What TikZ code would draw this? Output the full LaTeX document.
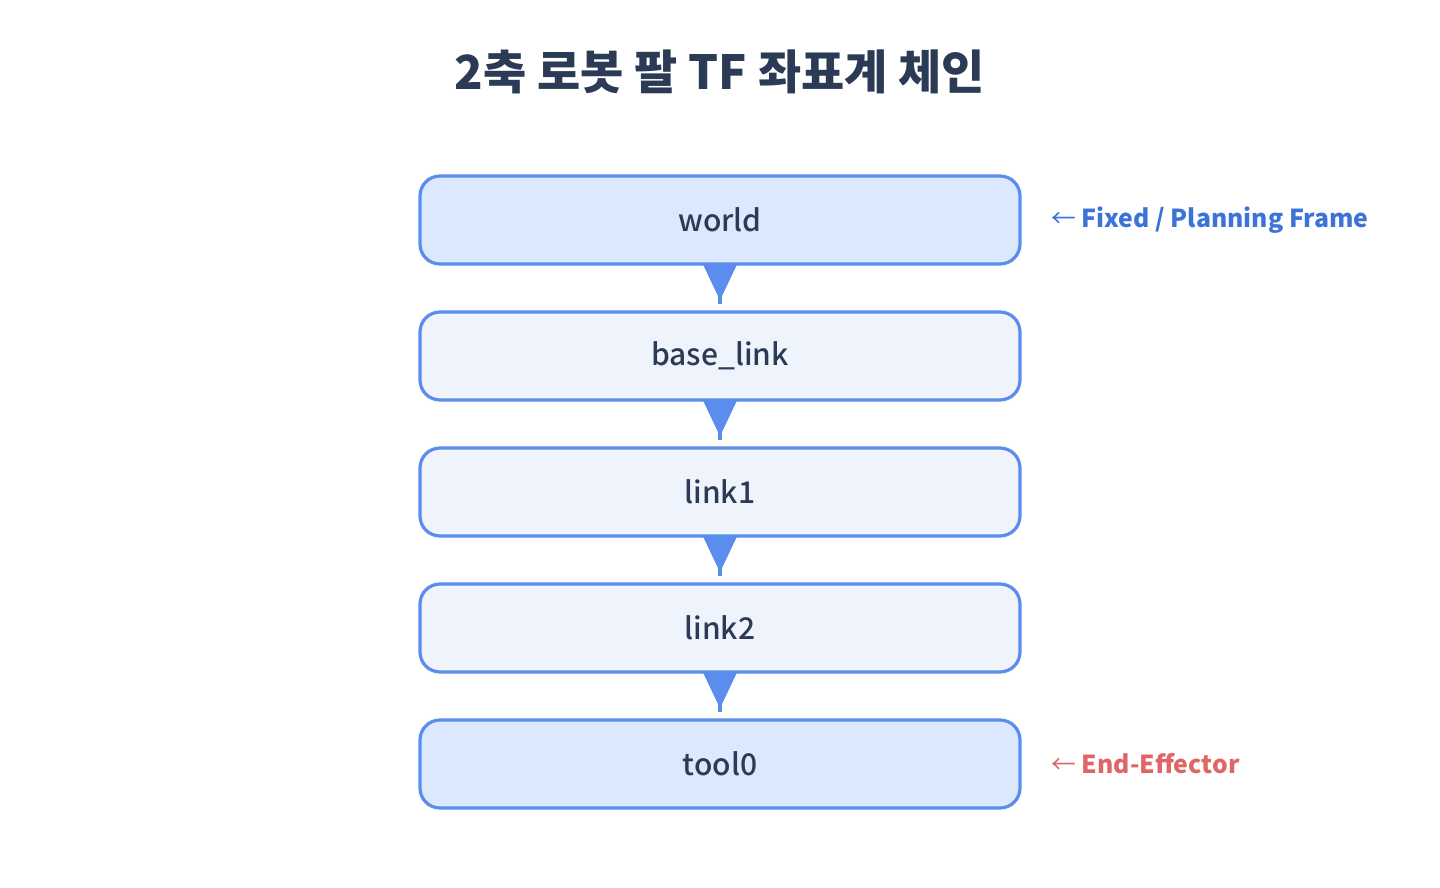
\documentclass[tikz,border=0pt]{standalone}
\usepackage{fontspec}
\setmainfont{Noto Sans CJK KR}
\newfontfamily\kr{Noto Sans CJK KR}
\newfontfamily\krm{Noto Sans CJK KR Medium}
\usetikzlibrary{arrows.meta,calc}
\definecolor{edge}{HTML}{5B8DEF}
\definecolor{fillA}{HTML}{DCE8FD}
\definecolor{fillB}{HTML}{EEF3FC}
\definecolor{ink}{HTML}{2B3A55}
\definecolor{blueT}{HTML}{3B73D9}
\definecolor{redT}{HTML}{E06666}
\begin{document}
\begin{tikzpicture}[x=0.5pt,y=-0.5pt,
  frame/.style={draw=edge,line width=1.6pt,rounded corners=10pt,minimum width=300pt,minimum height=44pt,inner sep=0pt,text=ink,font=\krm\fontsize{15}{18}\selectfont},
  keyA/.style={frame,fill=fillA},
  keyB/.style={frame,fill=fillB},
  stem/.style={draw=edge,line width=2pt},
  side/.style={anchor=west,inner sep=0pt,font=\kr\bfseries\fontsize{12.4}{16}\selectfont}
]
\useasboundingbox (0,0) rectangle (1440,888);
\node[font=\kr\bfseries\fontsize{23.5}{28}\selectfont,text=ink] (title) at (720,72) {2축 로봇 팔 TF 좌표계 체인};
\node[keyA] (world) at (720,220) {world};
\node[keyB] (base) at (720,356) {base\_link};
\node[keyB] (l1) at (720,492) {link1};
\node[keyB] (l2) at (720,628) {link2};
\node[keyA] (tool) at (720,764) {tool0};
\foreach \a/\b in {world/base,base/l1,l1/l2,l2/tool}{
  \draw[stem] (\a.south) -- ($(\b.north)+(0,-6)$);
  \draw[edge,line width=2pt,-{Triangle[length=18.5pt,width=17pt]}] (\a.south) -- ($(\b.north)+(0,-10)$);
}
\node[side,text=blueT] (fixed) at (1051,220) {{\mdseries ←} Fixed / Planning Frame};
\node[side,text=redT] (ee) at (1051,764) {{\mdseries ←} End-Effector};
\end{tikzpicture}
\end{document}
